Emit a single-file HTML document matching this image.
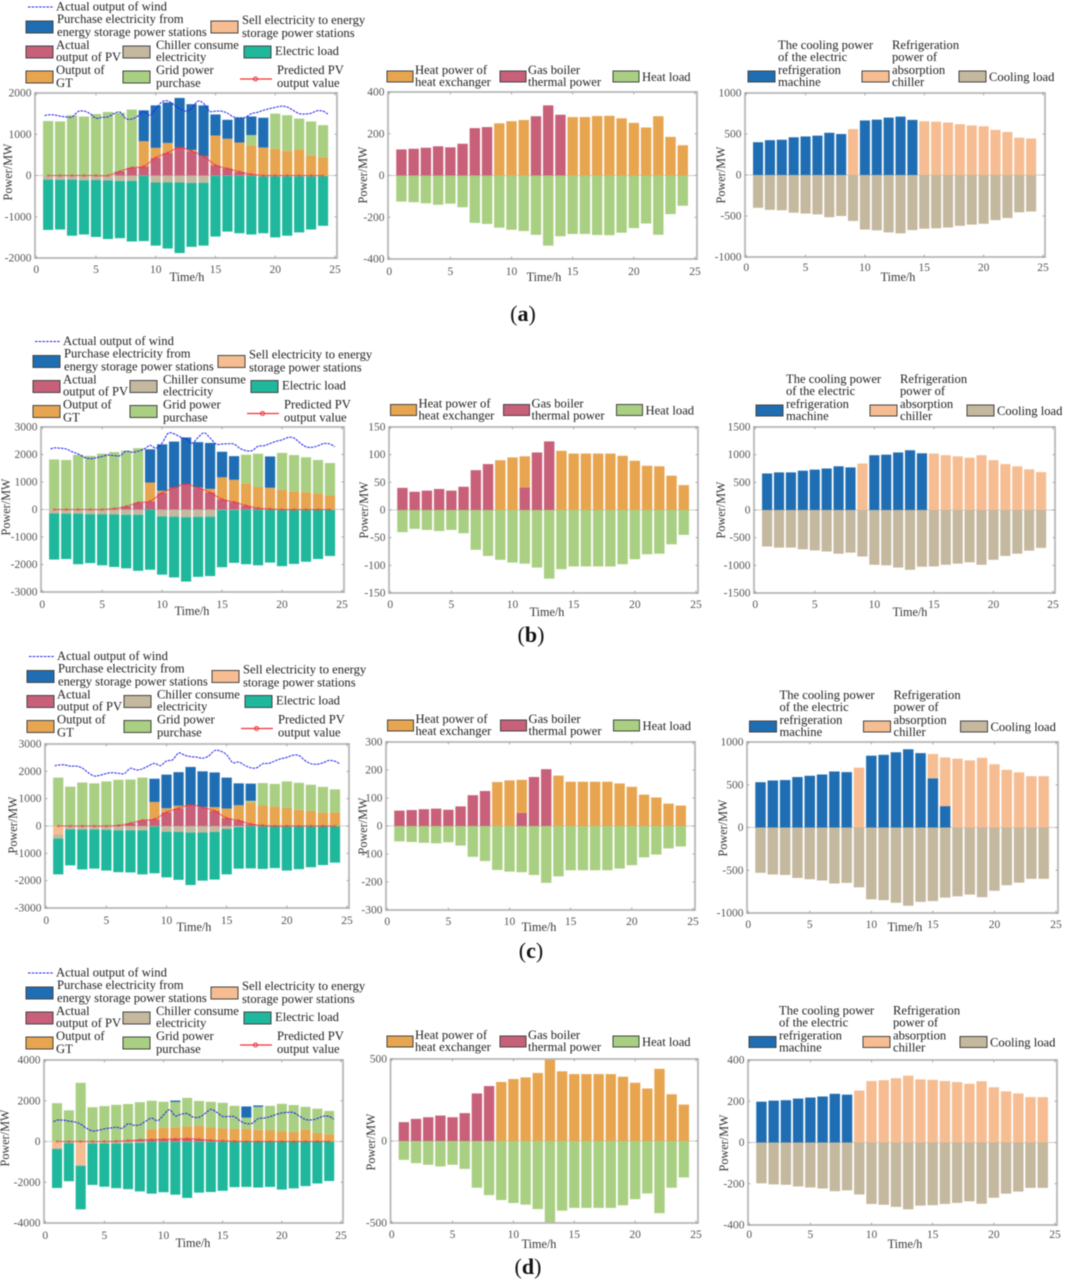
<!DOCTYPE html>
<html lang="en">
<head>
<meta charset="utf-8">
<title>Power balance results</title>
<style>
html,body{margin:0;padding:0;background:#fff;}
svg{display:block;filter:blur(0.45px);}
text{font-family:"Liberation Serif",serif;fill:#222;}
.lg{font-size:12.6px;}
.ax{font-size:12.2px;fill:#333;}
.cap{font-size:22px;fill:#111;text-anchor:middle;}
.cap tspan{font-weight:bold;}
.sw{stroke:#444;stroke-width:1;}
</style>
</head>
<body>
<svg id="page" xmlns="http://www.w3.org/2000/svg" width="1065" height="1280" viewBox="0 0 1065 1280">

<!-- Electric legends -->
<g transform="translate(0,0)">
<line x1="28" y1="7" x2="53" y2="7" stroke="#2020f0" stroke-width="1.1" stroke-dasharray="2.5 1.2"/>
<text class="lg" x="56" y="10.5">Actual output of wind</text>
<rect class="sw" x="26" y="21" width="27" height="12" fill="#1f6eb3"/>
<text class="lg" x="57" y="23">Purchase electricity from</text>
<text class="lg" x="57" y="36">energy storage power stations</text>
<rect class="sw" x="211" y="21" width="27" height="12" fill="#f6bd92"/>
<text class="lg" x="242" y="24">Sell electricity to energy</text>
<text class="lg" x="242" y="37">storage power stations</text>
<rect class="sw" x="26" y="46" width="27" height="12" fill="#c8607a"/>
<text class="lg" x="56" y="49">Actual</text>
<text class="lg" x="56" y="61">output of PV</text>
<rect class="sw" x="123" y="46" width="27" height="12" fill="#c4b89e"/>
<text class="lg" x="156" y="49">Chiller consume</text>
<text class="lg" x="156" y="61">electricity</text>
<rect class="sw" x="244" y="46" width="27" height="12" fill="#1fb89c"/>
<text class="lg" x="275" y="55">Electric load</text>
<rect class="sw" x="26" y="71" width="27" height="12" fill="#e8a550"/>
<text class="lg" x="56" y="74">Output of</text>
<text class="lg" x="56" y="87">GT</text>
<rect class="sw" x="123" y="71" width="27" height="12" fill="#a9cf82"/>
<text class="lg" x="156" y="74">Grid power</text>
<text class="lg" x="156" y="87">purchase</text>
<line x1="240" y1="79" x2="272" y2="79" stroke="#f0303a" stroke-width="1.3"/>
<circle cx="255.5" cy="79" r="2" fill="none" stroke="#f0303a"/>
<text class="lg" x="277" y="74">Predicted PV</text>
<text class="lg" x="277" y="87">output value</text>
</g>

<g transform="translate(7,334.5)">
<line x1="28" y1="7" x2="53" y2="7" stroke="#2020f0" stroke-width="1.1" stroke-dasharray="2.5 1.2"/>
<text class="lg" x="56" y="10.5">Actual output of wind</text>
<rect class="sw" x="26" y="21" width="27" height="12" fill="#1f6eb3"/>
<text class="lg" x="57" y="23">Purchase electricity from</text>
<text class="lg" x="57" y="36">energy storage power stations</text>
<rect class="sw" x="211" y="21" width="27" height="12" fill="#f6bd92"/>
<text class="lg" x="242" y="24">Sell electricity to energy</text>
<text class="lg" x="242" y="37">storage power stations</text>
<rect class="sw" x="26" y="46" width="27" height="12" fill="#c8607a"/>
<text class="lg" x="56" y="49">Actual</text>
<text class="lg" x="56" y="61">output of PV</text>
<rect class="sw" x="123" y="46" width="27" height="12" fill="#c4b89e"/>
<text class="lg" x="156" y="49">Chiller consume</text>
<text class="lg" x="156" y="61">electricity</text>
<rect class="sw" x="244" y="46" width="27" height="12" fill="#1fb89c"/>
<text class="lg" x="275" y="55">Electric load</text>
<rect class="sw" x="26" y="71" width="27" height="12" fill="#e8a550"/>
<text class="lg" x="56" y="74">Output of</text>
<text class="lg" x="56" y="87">GT</text>
<rect class="sw" x="123" y="71" width="27" height="12" fill="#a9cf82"/>
<text class="lg" x="156" y="74">Grid power</text>
<text class="lg" x="156" y="87">purchase</text>
<line x1="240" y1="79" x2="272" y2="79" stroke="#f0303a" stroke-width="1.3"/>
<circle cx="255.5" cy="79" r="2" fill="none" stroke="#f0303a"/>
<text class="lg" x="277" y="74">Predicted PV</text>
<text class="lg" x="277" y="87">output value</text>
</g>

<g transform="translate(1,649.5)">
<line x1="28" y1="7" x2="53" y2="7" stroke="#2020f0" stroke-width="1.1" stroke-dasharray="2.5 1.2"/>
<text class="lg" x="56" y="10.5">Actual output of wind</text>
<rect class="sw" x="26" y="21" width="27" height="12" fill="#1f6eb3"/>
<text class="lg" x="57" y="23">Purchase electricity from</text>
<text class="lg" x="57" y="36">energy storage power stations</text>
<rect class="sw" x="211" y="21" width="27" height="12" fill="#f6bd92"/>
<text class="lg" x="242" y="24">Sell electricity to energy</text>
<text class="lg" x="242" y="37">storage power stations</text>
<rect class="sw" x="26" y="46" width="27" height="12" fill="#c8607a"/>
<text class="lg" x="56" y="49">Actual</text>
<text class="lg" x="56" y="61">output of PV</text>
<rect class="sw" x="123" y="46" width="27" height="12" fill="#c4b89e"/>
<text class="lg" x="156" y="49">Chiller consume</text>
<text class="lg" x="156" y="61">electricity</text>
<rect class="sw" x="244" y="46" width="27" height="12" fill="#1fb89c"/>
<text class="lg" x="275" y="55">Electric load</text>
<rect class="sw" x="26" y="71" width="27" height="12" fill="#e8a550"/>
<text class="lg" x="56" y="74">Output of</text>
<text class="lg" x="56" y="87">GT</text>
<rect class="sw" x="123" y="71" width="27" height="12" fill="#a9cf82"/>
<text class="lg" x="156" y="74">Grid power</text>
<text class="lg" x="156" y="87">purchase</text>
<line x1="240" y1="79" x2="272" y2="79" stroke="#f0303a" stroke-width="1.3"/>
<circle cx="255.5" cy="79" r="2" fill="none" stroke="#f0303a"/>
<text class="lg" x="277" y="74">Predicted PV</text>
<text class="lg" x="277" y="87">output value</text>
</g>

<g transform="translate(0,966)">
<line x1="28" y1="7" x2="53" y2="7" stroke="#2020f0" stroke-width="1.1" stroke-dasharray="2.5 1.2"/>
<text class="lg" x="56" y="10.5">Actual output of wind</text>
<rect class="sw" x="26" y="21" width="27" height="12" fill="#1f6eb3"/>
<text class="lg" x="57" y="23">Purchase electricity from</text>
<text class="lg" x="57" y="36">energy storage power stations</text>
<rect class="sw" x="211" y="21" width="27" height="12" fill="#f6bd92"/>
<text class="lg" x="242" y="24">Sell electricity to energy</text>
<text class="lg" x="242" y="37">storage power stations</text>
<rect class="sw" x="26" y="46" width="27" height="12" fill="#c8607a"/>
<text class="lg" x="56" y="49">Actual</text>
<text class="lg" x="56" y="61">output of PV</text>
<rect class="sw" x="123" y="46" width="27" height="12" fill="#c4b89e"/>
<text class="lg" x="156" y="49">Chiller consume</text>
<text class="lg" x="156" y="61">electricity</text>
<rect class="sw" x="244" y="46" width="27" height="12" fill="#1fb89c"/>
<text class="lg" x="275" y="55">Electric load</text>
<rect class="sw" x="26" y="71" width="27" height="12" fill="#e8a550"/>
<text class="lg" x="56" y="74">Output of</text>
<text class="lg" x="56" y="87">GT</text>
<rect class="sw" x="123" y="71" width="27" height="12" fill="#a9cf82"/>
<text class="lg" x="156" y="74">Grid power</text>
<text class="lg" x="156" y="87">purchase</text>
<line x1="240" y1="79" x2="272" y2="79" stroke="#f0303a" stroke-width="1.3"/>
<circle cx="255.5" cy="79" r="2" fill="none" stroke="#f0303a"/>
<text class="lg" x="277" y="74">Predicted PV</text>
<text class="lg" x="277" y="87">output value</text>
</g>

<!-- Heat legends -->
<g transform="translate(0,0)">
<rect class="sw" x="387" y="71" width="26" height="11" fill="#e8a550"/>
<text class="lg" x="415" y="74">Heat power of</text>
<text class="lg" x="415" y="86">heat exchanger</text>
<rect class="sw" x="500" y="71" width="26" height="11" fill="#c8607a"/>
<text class="lg" x="528" y="74">Gas boiler</text>
<text class="lg" x="528" y="86">thermal power</text>
<rect class="sw" x="613" y="71" width="26" height="11" fill="#a9cf82"/>
<text class="lg" x="642" y="81">Heat load</text>
</g>
<g transform="translate(3.5,333.5)">
<rect class="sw" x="387" y="71" width="26" height="11" fill="#e8a550"/>
<text class="lg" x="415" y="74">Heat power of</text>
<text class="lg" x="415" y="86">heat exchanger</text>
<rect class="sw" x="500" y="71" width="26" height="11" fill="#c8607a"/>
<text class="lg" x="528" y="74">Gas boiler</text>
<text class="lg" x="528" y="86">thermal power</text>
<rect class="sw" x="613" y="71" width="26" height="11" fill="#a9cf82"/>
<text class="lg" x="642" y="81">Heat load</text>
</g>
<g transform="translate(0.5,649)">
<rect class="sw" x="387" y="71" width="26" height="11" fill="#e8a550"/>
<text class="lg" x="415" y="74">Heat power of</text>
<text class="lg" x="415" y="86">heat exchanger</text>
<rect class="sw" x="500" y="71" width="26" height="11" fill="#c8607a"/>
<text class="lg" x="528" y="74">Gas boiler</text>
<text class="lg" x="528" y="86">thermal power</text>
<rect class="sw" x="613" y="71" width="26" height="11" fill="#a9cf82"/>
<text class="lg" x="642" y="81">Heat load</text>
</g>
<g transform="translate(0,965)">
<rect class="sw" x="387" y="71" width="26" height="11" fill="#e8a550"/>
<text class="lg" x="415" y="74">Heat power of</text>
<text class="lg" x="415" y="86">heat exchanger</text>
<rect class="sw" x="500" y="71" width="26" height="11" fill="#c8607a"/>
<text class="lg" x="528" y="74">Gas boiler</text>
<text class="lg" x="528" y="86">thermal power</text>
<rect class="sw" x="613" y="71" width="26" height="11" fill="#a9cf82"/>
<text class="lg" x="642" y="81">Heat load</text>
</g>

<!-- Cooling legends -->
<g transform="translate(0,0)">
<rect class="sw" x="748" y="71" width="27" height="11" fill="#1f6eb3"/>
<text class="lg" x="778" y="49">The cooling power</text>
<text class="lg" x="778" y="61">of the electric</text>
<text class="lg" x="778" y="74">refrigeration</text>
<text class="lg" x="778" y="86">machine</text>
<rect class="sw" x="862" y="71" width="27" height="11" fill="#f6bd92"/>
<text class="lg" x="892" y="49">Refrigeration</text>
<text class="lg" x="892" y="61">power of</text>
<text class="lg" x="892" y="74">absorption</text>
<text class="lg" x="892" y="86">chiller</text>
<rect class="sw" x="959" y="71" width="27" height="11" fill="#c4b89e"/>
<text class="lg" x="989" y="81">Cooling load</text>
</g>
<g transform="translate(8,334)">
<rect class="sw" x="748" y="71" width="27" height="11" fill="#1f6eb3"/>
<text class="lg" x="778" y="49">The cooling power</text>
<text class="lg" x="778" y="61">of the electric</text>
<text class="lg" x="778" y="74">refrigeration</text>
<text class="lg" x="778" y="86">machine</text>
<rect class="sw" x="862" y="71" width="27" height="11" fill="#f6bd92"/>
<text class="lg" x="892" y="49">Refrigeration</text>
<text class="lg" x="892" y="61">power of</text>
<text class="lg" x="892" y="74">absorption</text>
<text class="lg" x="892" y="86">chiller</text>
<rect class="sw" x="959" y="71" width="27" height="11" fill="#c4b89e"/>
<text class="lg" x="989" y="81">Cooling load</text>
</g>
<g transform="translate(1.5,650)">
<rect class="sw" x="748" y="71" width="27" height="11" fill="#1f6eb3"/>
<text class="lg" x="778" y="49">The cooling power</text>
<text class="lg" x="778" y="61">of the electric</text>
<text class="lg" x="778" y="74">refrigeration</text>
<text class="lg" x="778" y="86">machine</text>
<rect class="sw" x="862" y="71" width="27" height="11" fill="#f6bd92"/>
<text class="lg" x="892" y="49">Refrigeration</text>
<text class="lg" x="892" y="61">power of</text>
<text class="lg" x="892" y="74">absorption</text>
<text class="lg" x="892" y="86">chiller</text>
<rect class="sw" x="959" y="71" width="27" height="11" fill="#c4b89e"/>
<text class="lg" x="989" y="81">Cooling load</text>
</g>
<g transform="translate(1,965.5)">
<rect class="sw" x="748" y="71" width="27" height="11" fill="#1f6eb3"/>
<text class="lg" x="778" y="49">The cooling power</text>
<text class="lg" x="778" y="61">of the electric</text>
<text class="lg" x="778" y="74">refrigeration</text>
<text class="lg" x="778" y="86">machine</text>
<rect class="sw" x="862" y="71" width="27" height="11" fill="#f6bd92"/>
<text class="lg" x="892" y="49">Refrigeration</text>
<text class="lg" x="892" y="61">power of</text>
<text class="lg" x="892" y="74">absorption</text>
<text class="lg" x="892" y="86">chiller</text>
<rect class="sw" x="959" y="71" width="27" height="11" fill="#c4b89e"/>
<text class="lg" x="989" y="81">Cooling load</text>
</g>

<!-- Axis titles -->
<g>
<text class="ax" text-anchor="middle" x="187" y="281">Time/h</text>
<text class="ax" text-anchor="middle" x="544" y="281">Time/h</text>
<text class="ax" text-anchor="middle" x="898" y="281">Time/h</text>
<text class="ax" text-anchor="middle" x="192" y="615">Time/h</text>
<text class="ax" text-anchor="middle" x="547" y="616">Time/h</text>
<text class="ax" text-anchor="middle" x="910" y="616">Time/h</text>
<text class="ax" text-anchor="middle" x="194" y="931">Time/h</text>
<text class="ax" text-anchor="middle" x="539" y="931">Time/h</text>
<text class="ax" text-anchor="middle" x="905" y="931">Time/h</text>
<text class="ax" text-anchor="middle" x="193" y="1247">Time/h</text>
<text class="ax" text-anchor="middle" x="539" y="1248">Time/h</text>
<text class="ax" text-anchor="middle" x="905" y="1248">Time/h</text>

<text class="ax" text-anchor="middle" transform="translate(12,172) rotate(-90)">Power/MW</text>
<text class="ax" text-anchor="middle" transform="translate(367,175) rotate(-90)">Power/MW</text>
<text class="ax" text-anchor="middle" transform="translate(725,175) rotate(-90)">Power/MW</text>
<text class="ax" text-anchor="middle" transform="translate(10,507) rotate(-90)">Power/MW</text>
<text class="ax" text-anchor="middle" transform="translate(368,510) rotate(-90)">Power/MW</text>
<text class="ax" text-anchor="middle" transform="translate(725,510) rotate(-90)">Power/MW</text>
<text class="ax" text-anchor="middle" transform="translate(17,825) rotate(-90)">Power/MW</text>
<text class="ax" text-anchor="middle" transform="translate(367,826) rotate(-90)">Power/MW</text>
<text class="ax" text-anchor="middle" transform="translate(727,828) rotate(-90)">Power/MW</text>
<text class="ax" text-anchor="middle" transform="translate(9,1138) rotate(-90)">Power/MW</text>
<text class="ax" text-anchor="middle" transform="translate(375,1142) rotate(-90)">Power/MW</text>
<text class="ax" text-anchor="middle" transform="translate(728,1143) rotate(-90)">Power/MW</text>
</g>

<!-- Captions -->
<text class="cap" x="523" y="321">(<tspan>a</tspan>)</text>
<text class="cap" x="531" y="642">(<tspan>b</tspan>)</text>
<text class="cap" x="531" y="958">(<tspan>c</tspan>)</text>
<text class="cap" x="528" y="1274">(<tspan>d</tspan>)</text>
</svg>

<script>
// ---------- shared categories and ticks ----------
const hours = [1,2,3,4,5,6,7,8,9,10,11,12,13,14,15,16,17,18,19,20,21,22,23,24];
const xTicks = [0,5,10,15,20,25];
const windTimes = [0.7,1,1.5,2,2.5,3,3.5,4,4.5,5,5.5,6,6.5,7,7.5,8,8.5,9,9.5,10,10.5,11,11.5,12,12.5,13,13.5,14,14.5,15,15.5,16,16.5,17,17.5,18,18.5,19,19.5,20,20.5,21,21.5,22,22.5,23,23.5,24,24.4];

const elecTicksA = [-2000,-1000,0,1000,2000];
const elecTicksB = [-3000,-2000,-1000,0,1000,2000,3000];
const elecTicksC = [-3000,-2000,-1000,0,1000,2000,3000];
const elecTicksD = [-4000,-2000,0,2000,4000];
const heatTicksA = [-400,-200,0,200,400];
const heatTicksB = [-150,-100,-50,0,50,100,150];
const heatTicksC = [-300,-200,-100,0,100,200,300];
const heatTicksD = [-500,0,500];
const coolTicksA = [-1000,-500,0,500,1000];
const coolTicksB = [-1500,-1000,-500,0,500,1000,1500];
const coolTicksC = [-1000,-500,0,500,1000];
const coolTicksD = [-400,-200,0,200,400];

// ---------- panel (a) electric ----------
const aPv = [0,0,0,0,0,0,100,190,220,430,550,680,590,470,250,170,90,30,0,0,0,0,0,0];
const aGt = [0,0,0,0,0,0,0,0,610,240,240,0,30,0,720,720,710,700,680,650,600,640,490,440];
const aStorage = [0,0,0,0,0,0,0,0,750,1030,980,1200,1110,1230,510,460,600,450,720,0,0,0,0,0];
const aGrid = [1320,1310,1460,1430,1490,1540,1420,1410,0,0,0,0,0,0,0,0,0,250,0,850,860,740,820,780];
const aSell = [0,0,0,0,0,0,0,0,0,0,0,0,0,0,0,0,0,0,0,0,0,0,0,0];
const aChiller = [100,105,100,115,110,120,135,130,10,170,170,170,180,175,10,10,10,10,20,20,20,20,20,15];
const aLoad = [1220,1205,1360,1315,1380,1420,1385,1470,1580,1530,1600,1710,1550,1525,1470,1350,1390,1420,1380,1480,1440,1360,1290,1205];
const aWind = [1450,1470,1470,1440,1420,1420,1550,1560,1500,1390,1410,1420,1500,1540,1380,1370,1440,1550,1460,1610,1780,1810,1720,1620,1560,1620,1800,1750,1560,1560,1560,1510,1420,1400,1410,1500,1530,1580,1620,1650,1680,1660,1580,1500,1490,1510,1570,1560,1490];
const aPredicted = [0,0,0,0,0,0,100,190,220,430,550,680,590,470,250,170,90,30,0,0,0,0,0,0];

// ---------- panel (b) electric ----------
const bPv = [0,0,0,0,0,30,110,250,300,600,800,920,790,620,370,270,140,50,20,0,0,0,0,0];
const bGt = [0,0,0,0,0,0,0,0,680,80,0,0,10,130,800,810,810,770,770,720,660,630,580,510];
const bStorage = [0,0,0,0,0,0,0,0,1210,1690,1670,1700,1650,1670,930,860,0,0,1140,0,0,0,0,0];
const bGrid = [1820,1800,1990,1950,2030,2060,2030,1980,0,0,0,0,0,0,0,0,1040,1210,0,1340,1320,1270,1220,1180];
const bSell = [0,0,0,0,0,0,0,0,0,0,0,0,0,0,0,0,0,0,0,0,0,0,0,0];
const bChiller = [140,150,150,170,170,180,190,190,10,250,260,280,270,260,20,20,10,10,10,20,20,20,15,15];
const bLoad = [1680,1650,1840,1780,1860,1910,1950,2040,2180,2120,2210,2340,2180,2160,2080,1920,1980,2020,1920,2040,1960,1880,1785,1675];
const bWind = [2200,2240,2230,2200,2100,2020,1900,1850,1880,1930,1980,1960,1960,2120,2080,2120,2200,2330,2230,2420,2770,2750,2640,2560,2410,2620,2790,2600,2380,2380,2390,2380,2220,2140,2140,2300,2320,2400,2480,2530,2620,2600,2420,2280,2260,2320,2400,2380,2280];
const bPredicted = [0,0,0,0,0,30,110,250,300,600,800,920,790,620,370,270,140,50,20,0,0,0,0,0];

// ---------- panel (c) electric ----------
const cPv = [0,0,0,0,0,20,100,210,250,500,650,770,680,550,290,200,70,20,0,0,0,0,0,0];
const cGt = [0,0,0,0,0,0,0,0,630,150,90,0,10,140,350,560,800,730,710,660,590,550,490,500];
const cStorage = [0,0,0,0,0,0,0,0,850,1230,1230,1390,1310,1270,1130,800,630,0,0,0,0,0,0,0];
const cGrid = [1770,1440,1590,1560,1630,1670,1600,1560,0,0,0,0,0,0,0,0,50,820,830,970,990,960,940,840];
const cSell = [310,0,0,0,0,0,0,0,0,0,0,0,0,0,0,0,0,0,0,0,0,0,0,0];
const cChiller = [150,120,130,130,140,160,160,160,20,210,220,240,240,220,110,40,10,10,10,20,20,20,15,15];
const cLoad = [1310,1320,1460,1430,1490,1530,1540,1610,1710,1670,1750,1920,1760,1740,1660,1520,1540,1560,1530,1610,1560,1490,1415,1325];
const cWind = [2200,2230,2240,2190,2190,2120,1950,1830,1860,1920,1950,1930,1920,2110,2050,2090,2200,2290,2210,2380,2420,2670,2590,2540,2520,2480,2560,2760,2740,2600,2320,2340,2220,2130,2130,2280,2290,2380,2460,2510,2590,2580,2400,2280,2260,2310,2400,2370,2270];
const cPredicted = [0,0,0,0,0,20,100,210,250,500,650,770,680,550,290,200,70,20,0,0,0,0,0,0];

// ---------- panel (d) electric ----------
const dPv = [0,0,0,0,0,10,40,80,90,110,120,140,110,60,30,10,0,0,0,0,0,0,0,0];
const dGt = [0,0,0,0,0,0,0,0,520,560,570,600,670,630,610,610,620,580,560,510,470,600,420,360];
const dStorage = [0,0,0,0,0,0,0,0,0,0,70,0,0,0,0,0,550,70,0,0,0,0,0,0];
const dGrid = [1880,1530,2880,1680,1740,1790,1800,1850,1390,1280,1250,1400,1210,1260,1260,1130,550,1120,1190,1340,1320,1100,1190,1140];
const dSell = [320,0,1140,0,0,0,0,0,0,0,0,0,0,0,0,0,0,0,0,0,0,0,0,0];
const dChiller = [50,80,60,100,100,100,80,60,10,20,20,20,20,20,20,10,10,10,10,10,10,10,10,10];
const dLoad = [1910,1870,2130,2030,2120,2190,2260,2390,2550,2470,2590,2750,2490,2460,2400,2230,2220,2250,2220,2350,2290,2180,2050,1930];
const dWind = [970,1050,1050,1000,960,850,650,520,550,620,660,700,650,870,800,820,1000,1150,1020,1300,1560,1260,1340,1370,1200,1190,1370,1580,1430,1230,1230,1220,1000,880,900,1120,1150,1220,1320,1400,1430,1420,1240,1080,1060,1130,1240,1230,1090];
const dPredicted = [0,0,0,0,0,10,40,80,90,110,120,140,110,60,30,10,0,0,0,0,0,0,0,0];

// ---------- heat charts ----------
const aHeatBoiler = [125,128,133,140,135,152,227,232,0,0,0,284,336,291,0,0,0,0,0,0,0,0,0,0];
const aHeatExchanger = [0,0,0,0,0,0,0,0,250,260,266,0,0,0,280,280,285,286,274,252,230,284,185,145];
const aHeatLoad = [125,128,133,140,135,152,227,232,250,260,266,284,336,291,280,280,285,286,274,252,230,284,185,145];
const bHeatBoiler = [40,33,35,38,35,42,72,83,0,0,41,104,124,0,0,0,0,0,0,0,0,0,0,0];
const bHeatExchanger = [0,0,0,0,0,0,0,0,90,95,56,0,0,107,102,102,102,102,98,89,80,79,62,45];
const bHeatLoad = [40,34,36,38,36,42,72,83,90,95,97,104,124,107,102,102,102,102,98,89,80,79,62,45];
const cHeatBoiler = [55,57,60,62,58,70,110,125,0,0,47,175,203,0,0,0,0,0,0,0,0,0,0,0];
const cHeatExchanger = [0,0,0,0,0,0,0,0,157,163,118,0,0,180,158,158,158,158,152,140,112,102,80,73];
const cHeatLoad = [55,57,60,62,58,70,110,125,157,163,165,175,203,180,158,158,158,158,152,140,112,102,80,73];
const dHeatBoiler = [115,135,145,155,145,170,290,335,0,0,0,0,0,0,0,0,0,0,0,0,0,0,0,0];
const dHeatExchanger = [0,0,0,0,0,0,0,0,360,378,388,415,500,425,408,408,408,408,392,355,320,440,285,222];
const dHeatLoad = [115,135,145,155,145,170,285,330,360,378,388,415,500,425,408,408,408,408,392,355,320,440,285,222];

// ---------- cooling charts ----------
const aCoolElectric = [400,425,430,460,470,480,515,500,0,665,675,700,712,672,0,0,0,0,0,0,0,0,0,0];
const aCoolAbsorption = [0,0,0,0,0,0,0,0,560,0,0,0,0,0,655,650,640,620,605,595,550,525,455,445];
const aCoolLoad = [400,425,430,460,470,480,515,500,560,665,675,700,712,672,655,650,640,620,605,595,550,525,455,445];
const bCoolElectric = [660,680,680,710,730,750,790,770,0,990,1000,1040,1080,1025,0,0,0,0,0,0,0,0,0,0];
const bCoolAbsorption = [0,0,0,0,0,0,0,0,840,0,0,0,0,0,1020,990,970,945,990,900,830,790,735,685];
const bCoolLoad = [660,680,680,710,730,750,790,770,840,990,1000,1040,1080,1025,1020,990,970,945,990,900,830,790,735,685];
const cCoolElectric = [530,550,555,590,605,620,655,648,0,840,850,880,915,870,575,250,0,0,0,0,0,0,0,0];
const cCoolAbsorption = [0,0,0,0,0,0,0,0,700,0,0,0,0,0,285,570,805,785,815,740,675,645,600,600];
const cCoolLoad = [530,550,555,590,605,620,655,648,700,840,850,880,915,870,860,820,805,785,815,740,675,645,600,600];
const dCoolElectric = [198,203,205,213,218,223,236,232,0,0,0,0,0,0,0,0,0,0,0,0,0,0,0,0];
const dCoolAbsorption = [0,0,0,0,0,0,0,0,252,298,302,312,324,306,304,298,293,285,297,268,248,238,220,220];
const dCoolLoad = [198,203,205,213,218,223,236,232,252,298,302,312,324,306,304,298,293,285,297,268,248,238,220,220];

// ---------- colours ----------
const BLUE='#1f6eb3',PEACH='#f6bd92',CRIMSON='#c8607a',TAN='#c4b89e',TEAL='#1fb89c',ORANGE='#e8a550',GREEN='#a9cf82';
const SVGNS='http://www.w3.org/2000/svg';
const page=document.getElementById('page');

function make(parent,tag,attrs){
  const el=document.createElementNS(SVGNS,tag);
  for(const k in attrs) el.setAttribute(k,attrs[k]);
  parent.appendChild(el);
  return el;
}
function xScale(box,v){const a=box.x0+1.2,b=box.x1-2;return a+(v/25)*(b-a);}
function yScale(box,v){return box.y1-((v-box.min)/(box.max-box.min))*(box.y1-box.y0);}

function smoothPath(xs,ys){
  let d='M'+xs[0].toFixed(2)+' '+ys[0].toFixed(2);
  for(let i=0;i<xs.length-1;i++){
    const p0=i>0?i-1:i,p3=i+2<xs.length?i+2:i+1;
    const c1x=xs[i]+(xs[i+1]-xs[p0])/6,c1y=ys[i]+(ys[i+1]-ys[p0])/6;
    const c2x=xs[i+1]-(xs[p3]-xs[i])/6,c2y=ys[i+1]-(ys[p3]-ys[i])/6;
    d+='C'+c1x.toFixed(2)+' '+c1y.toFixed(2)+' '+c2x.toFixed(2)+' '+c2y.toFixed(2)+' '+xs[i+1].toFixed(2)+' '+ys[i+1].toFixed(2);
  }
  return d;
}

function drawAxes(g,box,yTicks){
  const frame=make(g,'rect',{x:box.x0,y:box.y0,width:box.x1-box.x0,height:box.y1-box.y0,fill:'none',stroke:'#b8b8b8','stroke-width':1.8});
  
  
  xTicks.forEach(function(t){
    const x=xScale(box,t);
    const tick=make(g,'line',{x1:x,y1:box.y1,x2:x,y2:box.y1-2.5,stroke:'#999','stroke-width':0.8});
    
    
    const top=make(g,'line',{x1:x,y1:box.y0,x2:x,y2:box.y0+2.5,stroke:'#999','stroke-width':0.8});
    
    
    const label=make(g,'text',{x:x,y:box.tickY,'text-anchor':'middle','font-size':11.5,style:'fill:#555'});
    
    
    label.textContent=String(t);
  });
  yTicks.forEach(function(t){
    const y=yScale(box,t);
    const tick=make(g,'line',{x1:box.x0,y1:y,x2:box.x0+2.5,y2:y,stroke:'#999','stroke-width':0.8});
    
    
    const right=make(g,'line',{x1:box.x1,y1:y,x2:box.x1-2.5,y2:y,stroke:'#999','stroke-width':0.8});
    
    
    const label=make(g,'text',{x:box.x0-3.5,y:y+3.5,'text-anchor':'end','font-size':11.5,style:'fill:#555'});
    
    
    label.textContent=String(t);
  });
}

function drawStack(g,box,series,sign){
  const slot=(box.x1-box.x0-3.2)/25;
  const w=slot*0.85;
  hours.forEach(function(h,i){
    let acc=0;
    series.forEach(function(s){
      const v=s.values[i];
      if(!v) return;
      const y0=yScale(box,sign*acc);
      const y1=yScale(box,sign*(acc+v));
      acc+=v;
      const bar=make(g,'rect',{x:xScale(box,h)-w/2,y:Math.min(y0,y1),width:w,height:Math.abs(y1-y0),fill:s.color});
      
      
    });
  });
}

function drawZero(g,box){
  const y=yScale(box,0);
  const z=make(g,'line',{x1:box.x0,y1:y,x2:box.x1,y2:y,stroke:'#cfcfcf','stroke-width':1});
  
  
}

function chartGroup(name){
  const g=make(page,'g',{});
  
  
  return g;
}

function drawElectric(name,box,ticks,pv,gt,storage,grid,sell,chiller,load,wind,predicted){
  const g=chartGroup(name);
  drawZero(g,box);
  drawStack(g,box,[
    {name:'pv',values:pv,color:CRIMSON},
    {name:'gt',values:gt,color:ORANGE},
    {name:'grid',values:grid,color:GREEN},
    {name:'storage-purchase',values:storage,color:BLUE}
  ],1);
  drawStack(g,box,[
    {name:'sell',values:sell,color:PEACH},
    {name:'chiller',values:chiller,color:TAN},
    {name:'electric-load',values:load,color:TEAL}
  ],-1);
  drawAxes(g,box,ticks);
  const predLine=make(g,'path',{d:smoothPath(hours.map(function(h){return xScale(box,h);}),predicted.map(function(v){return yScale(box,v);})),fill:'none',stroke:'#f0303a','stroke-width':1.1,'stroke-opacity':0.7});
  
  
  hours.forEach(function(h,i){
    const c=make(g,'circle',{cx:xScale(box,h),cy:yScale(box,predicted[i]),r:1,fill:'none',stroke:'#f0303a','stroke-width':0.6,'stroke-opacity':0.7});
    
    
  });
  const windLine=make(g,'path',{d:smoothPath(windTimes.map(function(t){return xScale(box,t);}),wind.map(function(v){return yScale(box,v);})),fill:'none',stroke:'#2020f0','stroke-width':1,'stroke-dasharray':'2.5 1'});
  
  
}

function drawHeat(name,box,ticks,boiler,exchanger,load){
  const g=chartGroup(name);
  drawZero(g,box);
  drawStack(g,box,[
    {name:'gas-boiler',values:boiler,color:CRIMSON},
    {name:'heat-exchanger',values:exchanger,color:ORANGE}
  ],1);
  drawStack(g,box,[{name:'heat-load',values:load,color:GREEN}],-1);
  drawAxes(g,box,ticks);
}

function drawCooling(name,box,ticks,electric,absorption,load){
  const g=chartGroup(name);
  drawZero(g,box);
  drawStack(g,box,[
    {name:'electric-refrigeration',values:electric,color:BLUE},
    {name:'absorption-chiller',values:absorption,color:PEACH}
  ],1);
  drawStack(g,box,[{name:'cooling-load',values:load,color:TAN}],-1);
  drawAxes(g,box,ticks);
}

drawElectric('chart-a-electric',{x0:35,x1:337,y0:93,y1:258,min:-2000,max:2000,tickY:273},elecTicksA,aPv,aGt,aStorage,aGrid,aSell,aChiller,aLoad,aWind,aPredicted);
drawHeat('chart-a-heat',{x0:388,x1:697,y0:92,y1:259,min:-400,max:400,tickY:275},heatTicksA,aHeatBoiler,aHeatExchanger,aHeatLoad);
drawCooling('chart-a-cooling',{x0:745,x1:1045,y0:93,y1:257,min:-1000,max:1000,tickY:271},coolTicksA,aCoolElectric,aCoolAbsorption,aCoolLoad);

drawElectric('chart-b-electric',{x0:41,x1:344,y0:427,y1:592,min:-3000,max:3000,tickY:608},elecTicksB,bPv,bGt,bStorage,bGrid,bSell,bChiller,bLoad,bWind,bPredicted);
drawHeat('chart-b-heat',{x0:389,x1:698,y0:427,y1:593,min:-150,max:150,tickY:608},heatTicksB,bHeatBoiler,bHeatExchanger,bHeatLoad);
drawCooling('chart-b-cooling',{x0:754,x1:1055,y0:427,y1:593,min:-1500,max:1500,tickY:608},coolTicksB,bCoolElectric,bCoolAbsorption,bCoolLoad);

drawElectric('chart-c-electric',{x0:45,x1:349,y0:744,y1:908,min:-3000,max:3000,tickY:924},elecTicksC,cPv,cGt,cStorage,cGrid,cSell,cChiller,cLoad,cWind,cPredicted);
drawHeat('chart-c-heat',{x0:386,x1:695,y0:742,y1:910,min:-300,max:300,tickY:925},heatTicksC,cHeatBoiler,cHeatExchanger,cHeatLoad);
drawCooling('chart-c-cooling',{x0:747,x1:1058,y0:742,y1:913,min:-1000,max:1000,tickY:928},coolTicksC,cCoolElectric,cCoolAbsorption,cCoolLoad);

drawElectric('chart-d-electric',{x0:44,x1:343,y0:1060,y1:1223,min:-4000,max:4000,tickY:1239},elecTicksD,dPv,dGt,dStorage,dGrid,dSell,dChiller,dLoad,dWind,dPredicted);
drawHeat('chart-d-heat',{x0:390.5,x1:698,y0:1059,y1:1223,min:-500,max:500,tickY:1238},heatTicksD,dHeatBoiler,dHeatExchanger,dHeatLoad);
drawCooling('chart-d-cooling',{x0:748,x1:1057,y0:1060,y1:1225,min:-400,max:400,tickY:1238},coolTicksD,dCoolElectric,dCoolAbsorption,dCoolLoad);
</script>
</body>
</html>
